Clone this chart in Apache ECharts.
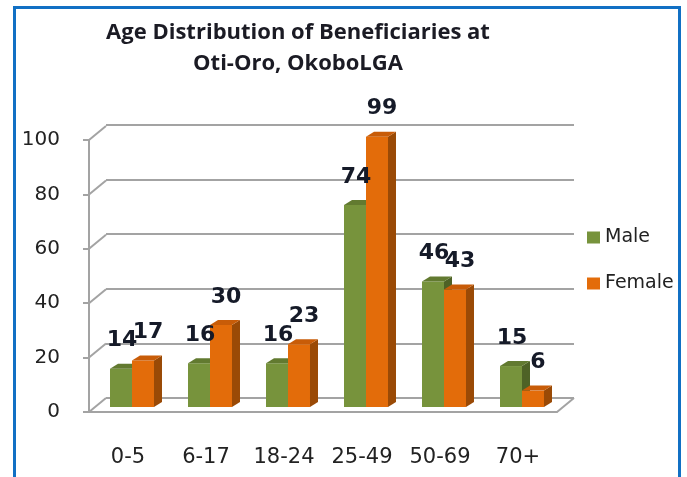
<!DOCTYPE html>
<html>
<head>
<meta charset="utf-8">
<script src="https://cdn.jsdelivr.net/npm/echarts@6/dist/echarts.min.js"></script>
<style>
  html, body { margin: 0; padding: 0; background: #fff; }
  #chart { width: 687px; height: 477px; }
</style>
</head>
<body>
<div id="chart"></div>
<script>
const categories = ['0-5', '6-17', '18-24', '25-49', '50-69', '70+'];
const male = [14, 16, 16, 74, 46, 15];
const female = [17, 30, 23, 99, 43, 6];
const yTicks = [0, 20, 40, 60, 80, 100];

const font = 'DejaVu Sans';
const gridGray = '#a3a3a3';

// 3d-ish column: front face, dark side, top face and the value on top
function column(dir, frontColor, topColor, sideColor, labelDx) {
  return function (params, api) {
    const i = api.value(0);
    const v = api.value(1);
    const top = api.coord([i, v]);
    const base = api.coord([i, 0]);
    const w = api.size([1, 0])[0] * 0.282;
    const x0 = dir < 0 ? top[0] - w : top[0];
    const x1 = x0 + w;
    const yT = top[1];
    const yB = base[1];
    const dx = 8, dy = 5;
    return {
      type: 'group',
      children: [
        {
          type: 'rect',
          shape: { x: x0, y: yT, width: w, height: yB - yT },
          style: { fill: frontColor }
        },
        {
          type: 'polygon',
          shape: { points: [[x1, yT], [x1 + dx, yT - dy], [x1 + dx, yB - dy], [x1, yB]] },
          style: { fill: sideColor }
        },
        {
          type: 'polygon',
          shape: { points: [[x0, yT], [x0 + dx, yT - dy], [x1 + dx, yT - dy], [x1, yT]] },
          style: { fill: topColor }
        },
        {
          type: 'text',
          z2: 100,
          style: {
            x: (x0 + x1) / 2 + labelDx,
            y: yT - 28,
            text: String(v),
            align: 'center',
            verticalAlign: 'middle',
            font: 'bold 22px "DejaVu Sans"',
            fill: '#151a28'
          }
        }
      ]
    };
  };
}

const chart = echarts.init(document.getElementById('chart'));

chart.setOption({
  backgroundColor: '#fff',
  animation: false,
  title: {
    text: 'Age Distribution of Beneficiaries at\nOti-Oro, OkoboLGA',
    left: 293,
    top: 12,
    textAlign: 'center',
    textStyle: {
      fontFamily: 'Open Sans',
      fontWeight: 'bold',
      fontSize: 22,
      lineHeight: 31,
      color: '#1b1b24'
    }
  },
  legend: {
    data: ['Male', 'Female'],
    orient: 'vertical',
    left: 582,
    top: 223,
    icon: 'rect',
    itemWidth: 13,
    itemHeight: 12,
    itemGap: 27,
    textStyle: { fontFamily: font, fontSize: 19, color: '#222' }
  },
  graphic: [{
    type: 'rect',
    shape: { x: 14.5, y: 7.5, width: 665, height: 500 },
    style: { fill: null, stroke: '#1170c4', lineWidth: 3 },
    silent: true
  }],
  grid: [
    { left: 89, top: 140, width: 468, height: 272 },  // front axes
    { left: 93, top: 134, width: 468, height: 273 },  // columns
    { left: 106, top: 125, width: 468, height: 273 }  // back wall
  ],
  xAxis: [
    {
      type: 'category',
      gridIndex: 0,
      data: categories,
      axisLine: { lineStyle: { color: gridGray, width: 2 } },
      axisTick: { length: 8, lineStyle: { color: gridGray, width: 2 } },
      axisLabel: { interval: 0, margin: 35, fontFamily: font, fontSize: 21, color: '#222' }
    },
    { type: 'category', gridIndex: 1, data: categories, show: false },
    { type: 'category', gridIndex: 2, data: categories, show: false }
  ],
  yAxis: [
    {
      type: 'value',
      gridIndex: 0,
      min: 0,
      max: 100,
      interval: 20,
      axisLine: { show: true, lineStyle: { color: gridGray, width: 2 } },
      axisTick: { show: true, length: 6, lineStyle: { color: gridGray, width: 2 } },
      axisLabel: { margin: 29, fontFamily: font, fontSize: 20, color: '#222' },
      splitLine: { show: false }
    },
    { type: 'value', gridIndex: 1, min: 0, max: 100, show: false },
    {
      type: 'value',
      gridIndex: 2,
      min: 0,
      max: 100,
      interval: 20,
      axisLine: { show: false },
      axisTick: { show: false },
      axisLabel: { show: false },
      splitLine: { lineStyle: { color: gridGray, width: 2 } }
    }
  ],
  series: [
    {
      // diagonals joining the front axis to the back wall
      type: 'custom',
      xAxisIndex: 0,
      yAxisIndex: 0,
      silent: true,
      data: yTicks.map(v => [0, v]),
      renderItem: function (params, api) {
        const cs = params.coordSys;
        const y = api.coord([0, api.value(1)])[1];
        const children = [{
          type: 'line',
          shape: { x1: cs.x, y1: y, x2: cs.x + 17, y2: y - 14 },
          style: { stroke: gridGray, lineWidth: 2 }
        }];
        if (api.value(1) === 0) {
          children.push({
            type: 'line',
            shape: { x1: cs.x + cs.width, y1: y, x2: cs.x + cs.width + 17, y2: y - 14 },
            style: { stroke: gridGray, lineWidth: 2 }
          });
        }
        return { type: 'group', children: children };
      }
    },
    {
      name: 'Male',
      type: 'custom',
      xAxisIndex: 1,
      yAxisIndex: 1,
      itemStyle: { color: '#77933c' },
      data: categories.map((c, i) => [i, male[i]]),
      renderItem: column(-1, '#77933c', '#627a30', '#4e6226', 1)
    },
    {
      name: 'Female',
      type: 'custom',
      xAxisIndex: 1,
      yAxisIndex: 1,
      itemStyle: { color: '#e36c0a' },
      data: categories.map((c, i) => [i, female[i]]),
      renderItem: column(1, '#e36c0a', '#c85c08', '#9a4a06', 5)
    }
  ]
});
</script>
</body>
</html>
